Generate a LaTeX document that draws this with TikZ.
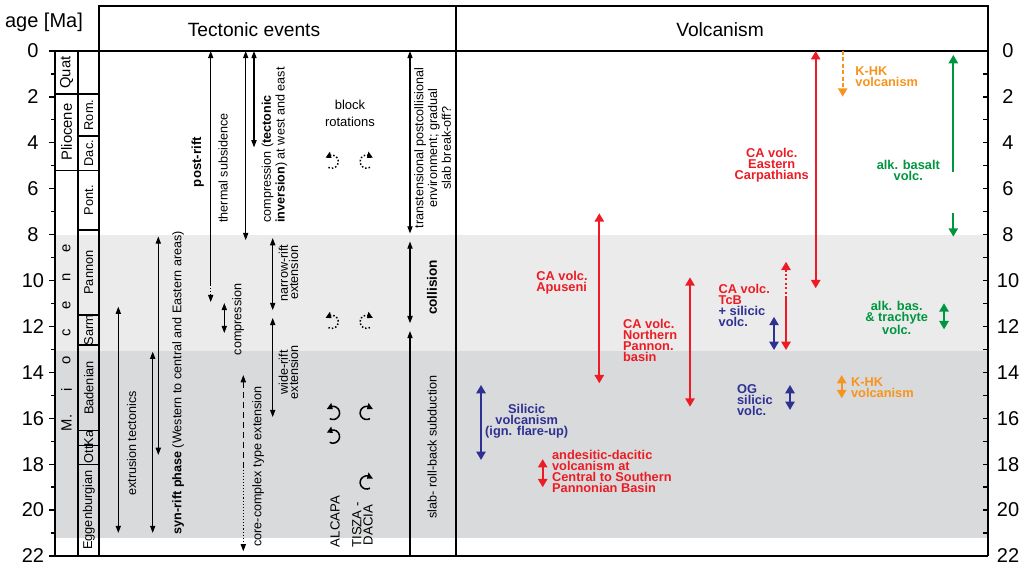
\documentclass[tikz,border=0pt]{standalone}
\usepackage{fontspec}
\setmainfont{Liberation Sans}
\usepackage{tikz}
\usetikzlibrary{arrows.meta,bending}

\definecolor{lightband}{RGB}{235,235,235}
\definecolor{darkband}{RGB}{217,218,219}
\definecolor{volred}{RGB}{237,28,36}
\definecolor{volblue}{RGB}{46,49,146}
\definecolor{volorange}{RGB}{247,148,29}
\definecolor{volgreen}{RGB}{0,150,64}

\newcommand{\tecfont}{\fontsize{6.3}{5.2}\selectfont}
\newcommand{\volfont}{\fontsize{6.4}{5.5}\selectfont\bfseries}

\begin{document}
\begin{tikzpicture}[x=0.5pt,y=-11.475pt,
	frame/.style={line width=0.75pt},
	colbox/.style={line width=0.6pt},
	tev/.style={line width=0.55pt,>={Triangle[length=3.6pt,width=2.6pt]},<->},
	vev/.style={line width=1pt,>={Triangle[length=4.2pt,width=4.6pt]},<->},
	rot/.style={line width=0.75pt,>={Triangle[length=3pt,width=3pt,bend]},->},
	tlab/.style={rotate=90,font=\tecfont,align=center,inner sep=0pt},
	vlab/.style={font=\volfont,align=left,inner sep=0pt},
	]
	\useasboundingbox (0,-2.2222) rectangle (1026,22.527);
	
	% age bands
	\fill[lightband] (55,8) rectangle (988,13.05);
	\fill[darkband] (55,13.05) rectangle (988,21.2);
	
	% frame and header
	\draw[frame] (55,0) -- (55,22) -- (988,22);
	\draw[frame] (99,22) -- (99,-1.961) -- (988,-1.961) -- (988,22);
	\draw[frame] (99,0) -- (988,0);
	\draw[frame] (456,-1.961) -- (456,22);
	\node[font=\fontsize{9.6}{11}\selectfont] (tecthead) at (254,-0.915) {Tectonic events};
	\node[font=\fontsize{9.6}{11}\selectfont] (volchead) at (720,-0.915) {Volcanism};
	\node[font=\fontsize{10}{12}\selectfont] (agehead) at (44,-1.264) {age [Ma]};
	
	% age axes
	\foreach \a in {0,2,...,22} {
		\draw[colbox] (49,\a) -- (55,\a);
		\draw[colbox] (983,\a) -- (988,\a);
		\node[font=\fontsize{10}{12}\selectfont] (agel\a) at (33,\a) {\a};
		\node[font=\fontsize{10}{12}\selectfont] (ager\a) at (1008,\a) {\a};
	}
	\foreach \a in {1,3,...,21} {
		\draw[colbox] (51,\a) -- (55,\a);
		\draw[colbox] (983,\a) -- (988,\a);
	}
	
	% epochs and stages
	\draw[colbox] (55,0) rectangle (78,1.87) (55,1.87) rectangle (78,5.19);
	\draw[colbox] (78,5.19) -- (78,22);
	\foreach \t/\b in {0/1.87,1.87/3.7,3.7/5.19,5.19/7.8,7.8/11.5,11.5/12.81,12.81/16.55,16.55/17.2,17.2/18.0,18.0/22}
		\draw[colbox] (78,\t) rectangle (99,\b);
	\node[rotate=90,font=\fontsize{7.4}{9}\selectfont] (quat) at (66.5,0.94) {Quat};
	\node[rotate=90,font=\fontsize{7.4}{9}\selectfont] (plio) at (66.5,3.53) {Pliocene};
	\foreach \l/\a [count=\i] in {M./16.21,i/14.77,o/13.46,c/12.29,e/11.07,n/9.85,e/8.58}
		\node[rotate=90,font=\fontsize{7.4}{9}\selectfont] (mio\i) at (66.5,\a) {\l};
	\foreach \s/\a [count=\i] in {Rom./2.79,Dac./4.45,Pont./6.5,Pannon/9.65,Sarm/12.16,Badenian/14.68,Ka/16.88,Ott/17.6,Eggenburgian/20.0}
		\node[rotate=90,font=\fontsize{6.4}{8}\selectfont,inner sep=0pt] (stage\i) at (88.8,\a) {\s};
	
	% tectonic events
	\draw[tev] (118.3,11.14) -- (118.3,21.0);
	\node[tlab] (extr) at (131.7,17.1) {extrusion tectonics};
	\draw[tev] (152.7,13.1) -- (152.7,21.0);
	\draw[tev] (158.3,8.08) -- (158.3,17.6);
	\node[tlab] (synrift) at (178,14.45) {\textbf{syn-rift phase} (Western to central and Eastern areas)};
	\node[tlab,font=\fontsize{6.6}{7}\selectfont\bfseries] (postrift) at (197.7,4.84) {post-rift};
	\draw[tev,<-] (210.7,0) -- (210.7,10.2);
	\draw[tev,->,densely dotted] (210.7,10.2) -- (210.7,10.94);
	\node[tlab] (thermal) at (223,5.1) {thermal subsidence};
	\draw[tev] (224.3,10.98) -- (224.3,12.29);
	\node[tlab] (compr) at (238,11.7) {compression};
	\draw[tev] (245.7,0) -- (245.7,8.24);
	\draw[tev] (254,0) -- (254,4.2);
	\node[tlab,align=left,anchor=west] (inversion) at (274.5,7.5) {compression (\textbf{tectonic}\\\textbf{inversion}) at west and east};
	\draw[tev,<-,densely dashed] (243.3,14.12) -- (243.3,18.1);
	\draw[tev,->,densely dotted] (243.3,18.1) -- (243.3,21.8);
	\node[tlab] (corecx) at (258,18.1) {core-complex type extension};
	\draw[tev] (272.7,8.15) -- (272.7,11.29);
	\node[tlab] (narrow) at (288.5,9.67) {narrow-rift\\extension};
	\draw[tev] (272.7,11.63) -- (272.7,15.95);
	\node[tlab] (wide) at (288.5,14.0) {wide-rift\\extension};
	
	% block rotations
	\node[font=\fontsize{6.5}{8.5}\selectfont,align=center] (blockrot) at (350,2.7) {block\\rotations};
	\foreach \y in {4.82,11.8} {
		\draw[rot,densely dotted] (331.7,\y) ++(-120:3.3pt) arc[start angle=-120,end angle=150,radius=3.3pt];
		\draw[rot,densely dotted] (366.7,\y) ++(-60:3.3pt) arc[start angle=-60,end angle=-330,radius=3.3pt];
	}
	\foreach \y in {15.77,16.8}
		\draw[rot] (333,\y) ++(-120:3.3pt) arc[start angle=-120,end angle=150,radius=3.3pt];
	\foreach \y in {15.77,18.8}
		\draw[rot] (366.7,\y) ++(-60:3.3pt) arc[start angle=-60,end angle=-330,radius=3.3pt];
	\node[tlab,font=\fontsize{6.6}{5.6}\selectfont] (alcapa) at (335,20.5) {ALCAPA};
	\node[tlab,font=\fontsize{6.6}{5.6}\selectfont] (tisza) at (362.5,20.65) {TISZA -\\DACIA};
	
	% subduction and collision
	\draw[tev] (410,0) -- (410,7.95);
	\draw[tev] (410,8.3) -- (410,11.86);
	\draw[tev,<-] (410,12.2) -- (410,22);
	\node[tlab] (transt) at (432.5,4.23) {transtensional postcollisional\\environment; gradual\\slab break-off?};
	\node[tlab,font=\fontsize{6.8}{7}\selectfont\bfseries] (collision) at (432,10.3) {collision};
	\node[tlab] (slab) at (432,17.25) {slab- roll-back subduction};
	
	% volcanism
	\draw[vev,volblue] (481,14.55) -- (481,17.82);
	\node[vlab,align=center,text=volblue] (silicic) at (526.7,16.12) {Silicic\\volcanism\\(ign. flare-up)};
	\draw[vev,volred] (542.7,17.78) -- (542.7,19.01);
	\node[vlab,anchor=west,text=volred] (andes) at (551.7,18.34) {andesitic-dacitic\\volcanism at\\Central to Southern\\Pannonian Basin};
	\draw[vev,volred] (599.3,7.07) -- (599.3,14.48);
	\node[vlab,anchor=west,text=volred] (apuseni) at (536,10.11) {CA volc.\\Apuseni};
	\draw[vev,volred] (690,9.86) -- (690,15.5);
	\node[vlab,anchor=west,text=volred] (npannon) at (622.7,12.6) {CA volc.\\Northern\\Pannon.\\basin};
	\draw[vev,volred,<-,dash pattern=on 1pt off 1.2pt] (786,9.18) -- (786,10.76);
	\draw[vev,volred,->] (786,10.76) -- (786,13.03);
	\draw[vev,volblue] (774,11.58) -- (774,13.03);
	\node[vlab,anchor=west,text=volred] (tcb) at (718.3,11.07) {CA volc.\\TcB\\\textcolor{volblue}{+ silicic}\\\textcolor{volblue}{volc.}};
	\draw[vev,volblue] (790,14.55) -- (790,15.64);
	\node[vlab,anchor=west,text=volblue] (og) at (736.7,15.21) {OG\\silicic\\volc.};
	\draw[vev,volred] (815.7,0) -- (815.7,10.34);
	\node[vlab,align=center,text=volred] (ecarp) at (771.7,4.97) {CA volc.\\Eastern\\Carpathians};
	\draw[vev,volorange,dash pattern=on 2pt off 1.2pt,->] (842.7,0) -- (842.7,1.99);
	\node[vlab,anchor=west,text=volorange] (khk) at (855,1.13) {K-HK\\volcanism};
	\draw[vev,volorange] (841.7,14.12) -- (841.7,15.13);
	\node[vlab,anchor=west,text=volorange] (khkold) at (850.7,14.68) {K-HK\\volcanism};
	\draw[vev,volgreen,<-] (953.3,0.17) -- (953.3,5.26);
	\draw[vev,volgreen,->] (953.3,7.07) -- (953.3,8.09);
	\node[vlab,align=center,text=volgreen] (alkbas) at (908.3,5.21) {alk. basalt\\volc.};
	\draw[vev,volgreen] (944,10.99) -- (944,12.13);
	\node[vlab,align=center,text=volgreen] (trachyte) at (896.7,11.63) {alk. bas.\\\& trachyte\\volc.};
\end{tikzpicture}
\end{document}
